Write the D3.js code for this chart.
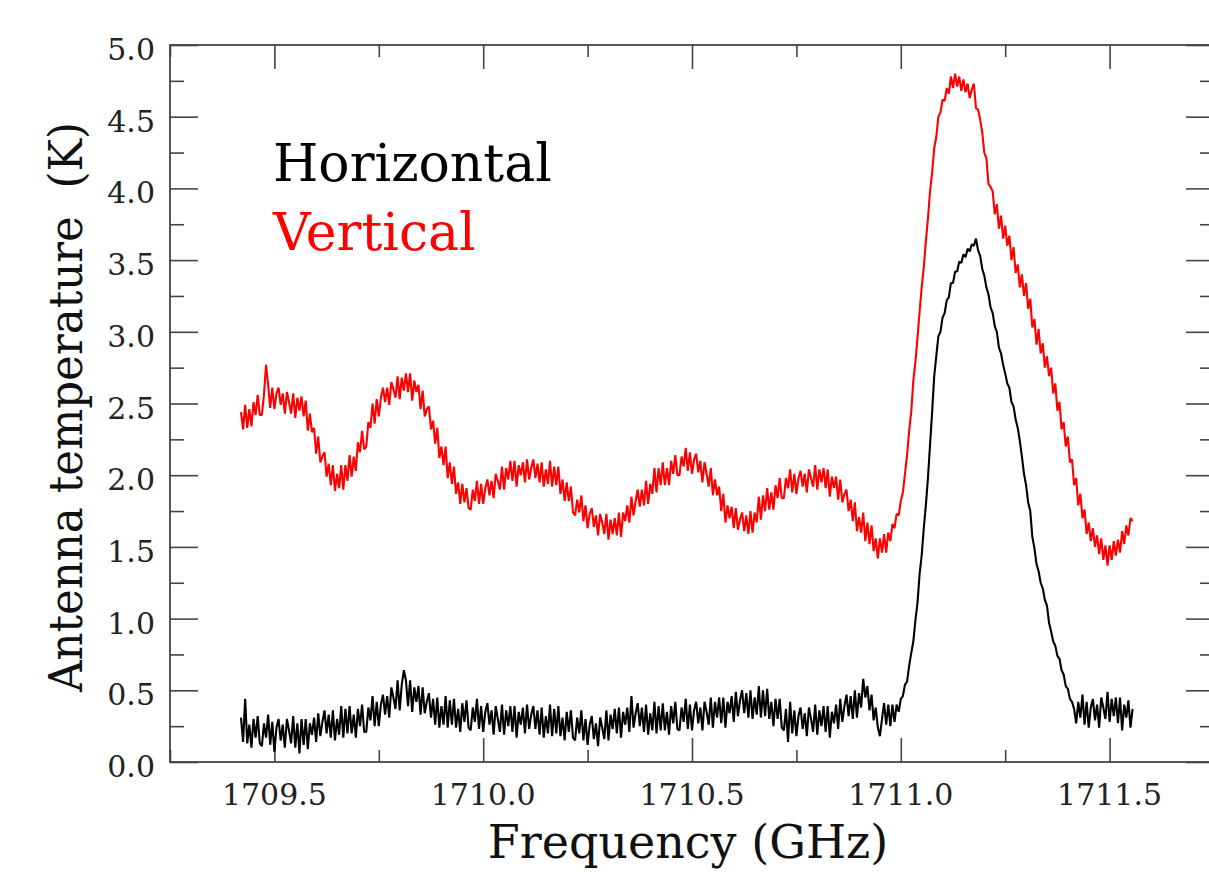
<!DOCTYPE html>
<html>
<head>
<meta charset="utf-8">
<script src="https://cdn.jsdelivr.net/npm/d3@7"></script>
<style>
  body { margin: 0; background: #fff; }
  text { font-family: "DejaVu Serif", serif; }
</style>
</head>
<body>
<svg id="chart" width="1209" height="873"></svg>
<script>
// spectrometer channels: first channel and channel width (GHz)
const freqStart = 1709.42;
const freqStep = 0.005;

// antenna temperature (K), vertical polarisation
const vertical = [
  2.44,2.32,2.49,2.33,2.46,2.34,2.51,2.42,2.56,2.42,
  2.42,2.56,2.77,2.63,2.47,2.61,2.46,2.57,2.61,2.49,
  2.57,2.43,2.58,2.51,2.43,2.57,2.40,2.54,2.45,2.55,
  2.41,2.52,2.31,2.43,2.30,2.33,2.15,2.27,2.09,2.13,
  2.16,1.99,2.08,1.93,2.07,1.89,2.01,1.91,2.07,1.90,
  2.07,1.96,2.14,1.99,2.13,2.03,2.23,2.16,2.31,2.18,
  2.20,2.37,2.33,2.50,2.36,2.53,2.41,2.54,2.61,2.51,
  2.61,2.49,2.65,2.60,2.54,2.69,2.53,2.68,2.59,2.71,
  2.58,2.71,2.52,2.66,2.58,2.63,2.46,2.59,2.41,2.46,
  2.48,2.32,2.38,2.22,2.33,2.12,2.20,2.07,2.20,1.98,
  2.09,1.94,2.06,1.87,1.95,1.80,1.94,1.81,1.91,1.77,
  1.76,1.90,1.82,1.96,1.80,1.94,1.80,1.91,1.97,1.86,
  1.96,1.84,2.01,1.96,1.90,2.06,1.90,2.05,1.97,2.10,
  1.96,2.10,1.92,2.07,2.00,2.09,1.95,2.11,1.97,2.05,
  2.11,1.98,2.08,1.95,2.09,1.92,2.04,1.94,2.10,1.92,
  2.06,1.93,2.06,1.87,1.97,1.82,1.95,1.82,1.92,1.74,
  1.72,1.83,1.74,1.86,1.68,1.79,1.63,1.73,1.77,1.64,
  1.72,1.58,1.73,1.67,1.59,1.73,1.55,1.69,1.59,1.70,
  1.58,1.74,1.57,1.74,1.68,1.79,1.67,1.85,1.72,1.82,
  1.90,1.78,1.90,1.79,1.96,1.80,1.94,1.87,2.05,1.88,
  2.05,1.93,2.09,1.93,2.05,1.93,2.10,2.01,2.14,2.00,
  2.00,2.13,2.06,2.19,2.03,2.16,2.01,2.11,2.15,2.02,
  2.10,1.95,2.09,2.01,1.92,2.05,1.86,1.97,1.86,1.92,
  1.75,1.87,1.67,1.79,1.70,1.78,1.63,1.77,1.62,1.69,
  1.74,1.61,1.72,1.59,1.75,1.60,1.74,1.67,1.85,1.69,
  1.86,1.75,1.91,1.76,1.88,1.76,1.93,1.84,1.98,1.84,
  1.84,1.98,1.91,2.04,1.88,2.01,1.87,1.98,2.03,1.92,
  2.01,1.88,2.04,1.98,1.92,2.07,1.90,2.04,1.95,2.05,
  1.91,2.04,1.85,1.99,1.91,1.99,1.83,1.97,1.81,1.87,
  1.90,1.75,1.83,1.68,1.81,1.61,1.71,1.60,1.74,1.54,
  1.67,1.52,1.65,1.47,1.56,1.42,1.56,1.46,1.59,1.46,
  1.60,1.54,1.66,1.63,1.73,1.72,1.82,1.88,2.01,2.14,
  2.31,2.44,2.66,2.79,2.96,3.14,3.31,3.45,3.63,3.79,
  3.98,4.11,4.28,4.36,4.50,4.53,4.62,4.61,4.70,4.66,
  4.78,4.70,4.80,4.71,4.78,4.68,4.76,4.67,4.73,4.63,
  4.69,4.73,4.56,4.55,4.48,4.39,4.25,4.21,4.03,4.01,
  3.98,3.82,3.89,3.72,3.81,3.65,3.74,3.60,3.67,3.50,
  3.59,3.41,3.47,3.31,3.40,3.25,3.34,3.16,3.23,3.03,
  3.09,2.91,3.02,2.85,2.92,2.75,2.83,2.69,2.75,2.57,
  2.64,2.45,2.51,2.32,2.37,2.20,2.27,2.09,2.11,1.93,
  1.98,1.79,1.87,1.70,1.76,1.59,1.67,1.54,1.63,1.50,
  1.58,1.45,1.56,1.41,1.51,1.37,1.51,1.41,1.54,1.44,
  1.55,1.46,1.61,1.52,1.65,1.58,1.70,1.68
];

// antenna temperature (K), horizontal polarisation
const horizontal = [
  0.31,0.14,0.44,0.13,0.26,0.10,0.30,0.17,0.32,0.13,
  0.11,0.27,0.17,0.33,0.12,0.28,0.07,0.24,0.30,0.15,
  0.26,0.10,0.30,0.22,0.13,0.32,0.10,0.27,0.06,0.30,
  0.12,0.30,0.09,0.27,0.19,0.31,0.14,0.34,0.18,0.28,
  0.36,0.20,0.33,0.17,0.36,0.15,0.30,0.19,0.39,0.17,
  0.37,0.20,0.39,0.20,0.33,0.17,0.37,0.25,0.40,0.21,
  0.21,0.38,0.29,0.46,0.25,0.42,0.25,0.40,0.47,0.33,
  0.46,0.31,0.52,0.45,0.37,0.57,0.36,0.54,0.64,0.57,
  0.39,0.57,0.35,0.52,0.42,0.53,0.33,0.52,0.34,0.42,
  0.48,0.31,0.44,0.26,0.45,0.24,0.39,0.26,0.46,0.24,
  0.43,0.26,0.44,0.24,0.37,0.21,0.41,0.28,0.43,0.24,
  0.22,0.38,0.28,0.44,0.23,0.39,0.21,0.35,0.41,0.26,
  0.36,0.19,0.39,0.30,0.21,0.40,0.19,0.36,0.25,0.39,
  0.21,0.39,0.17,0.35,0.26,0.38,0.20,0.40,0.23,0.33,
  0.39,0.23,0.36,0.19,0.38,0.17,0.32,0.20,0.40,0.18,
  0.37,0.20,0.39,0.18,0.31,0.15,0.35,0.21,0.36,0.17,
  0.15,0.31,0.20,0.36,0.15,0.30,0.12,0.26,0.32,0.16,
  0.27,0.11,0.31,0.24,0.16,0.36,0.15,0.33,0.23,0.37,
  0.20,0.38,0.17,0.35,0.26,0.38,0.21,0.46,0.24,0.34,
  0.41,0.25,0.38,0.21,0.40,0.19,0.34,0.22,0.42,0.20,
  0.39,0.22,0.41,0.22,0.35,0.19,0.39,0.27,0.42,0.23,
  0.22,0.38,0.28,0.44,0.23,0.40,0.22,0.36,0.42,0.27,
  0.38,0.22,0.42,0.35,0.26,0.45,0.24,0.42,0.31,0.45,
  0.27,0.45,0.24,0.42,0.34,0.46,0.28,0.49,0.32,0.43,
  0.50,0.34,0.48,0.31,0.50,0.30,0.45,0.33,0.53,0.31,
  0.50,0.32,0.51,0.30,0.42,0.25,0.44,0.30,0.44,0.24,
  0.22,0.37,0.14,0.42,0.20,0.36,0.18,0.32,0.38,0.23,
  0.34,0.18,0.38,0.30,0.21,0.40,0.19,0.36,0.25,0.39,
  0.21,0.39,0.17,0.35,0.27,0.40,0.23,0.44,0.28,0.39,
  0.47,0.32,0.46,0.30,0.50,0.31,0.48,0.38,0.58,0.45,
  0.53,0.36,0.47,0.29,0.38,0.24,0.18,0.30,0.41,0.26,
  0.40,0.25,0.40,0.28,0.40,0.35,0.44,0.46,0.54,0.56,
  0.67,0.76,0.84,0.99,1.11,1.31,1.44,1.63,1.79,1.98,
  2.21,2.44,2.69,2.83,2.97,3.00,3.10,3.13,3.22,3.24,
  3.34,3.34,3.42,3.42,3.49,3.48,3.54,3.52,3.58,3.56,
  3.61,3.60,3.65,3.57,3.53,3.44,3.39,3.31,3.26,3.17,
  3.13,3.04,3.00,2.89,2.85,2.77,2.71,2.64,2.61,2.51,
  2.48,2.39,2.33,2.24,2.13,2.01,1.93,1.81,1.75,1.57,
  1.49,1.38,1.33,1.25,1.21,1.13,1.09,0.97,0.91,0.84,
  0.81,0.74,0.72,0.64,0.61,0.53,0.51,0.44,0.42,0.37,
  0.27,0.42,0.31,0.47,0.26,0.42,0.24,0.38,0.44,0.29,
  0.40,0.24,0.45,0.38,0.30,0.49,0.28,0.44,0.32,0.45,
  0.27,0.45,0.22,0.40,0.31,0.43,0.24,0.37
];

const xMajor = [1709.5, 1710.0, 1710.5, 1711.0, 1711.5];
const xMinor = [1709.25, 1709.75, 1710.25, 1710.75, 1711.25, 1711.75];
const yMajor = [0, 0.5, 1, 1.5, 2, 2.5, 3, 3.5, 4, 4.5, 5];
const yMinor = [0.25, 0.75, 1.25, 1.75, 2.25, 2.75, 3.25, 3.75, 4.25, 4.75];

const svg = d3.select('#chart');
const plotLeft = 170, plotRight = 1214, plotTop = 45, plotBottom = 762;

const x = d3.scaleLinear().domain([1709.25, 1711.75]).range([plotLeft, plotRight]);
const y = d3.scaleLinear().domain([0, 5]).range([plotBottom, plotTop]);

const axisColor = '#444';

// ticks, all pointing into the plot
function ticks(axis, vals, size, tx, ty) {
  const g = svg.append('g')
    .attr('transform', `translate(${tx},${ty})`)
    .call(axis.tickValues(vals).tickSize(size).tickSizeOuter(0).tickFormat(''));
  g.select('.domain').remove();
  g.selectAll('line').attr('stroke', axisColor).attr('stroke-width', 1.6);
  return g;
}
ticks(d3.axisBottom(x), xMajor, -24, 0, plotBottom);
ticks(d3.axisBottom(x), xMinor, -12, 0, plotBottom);
ticks(d3.axisTop(x), xMajor, -24, 0, plotTop);
ticks(d3.axisTop(x), xMinor, -12, 0, plotTop);
ticks(d3.axisLeft(y), yMajor, -28, plotLeft, 0);
ticks(d3.axisLeft(y), yMinor, -14, plotLeft, 0);
ticks(d3.axisRight(y), yMajor, -28, plotRight, 0);
ticks(d3.axisRight(y), yMinor, -14, plotRight, 0);

svg.append('rect')
  .attr('x', plotLeft).attr('y', plotTop)
  .attr('width', plotRight - plotLeft).attr('height', plotBottom - plotTop)
  .attr('fill', 'none').attr('stroke', axisColor).attr('stroke-width', 1.8);

// tick labels
svg.append('g').selectAll('text').data(xMajor).join('text')
  .attr('x', d => x(d)).attr('y', 805)
  .attr('text-anchor', 'middle')
  .attr('font-size', 30).attr('fill', '#222')
  .text(d => d.toFixed(1));

svg.append('g').selectAll('text').data(yMajor).join('text')
  .attr('x', 155).attr('y', d => y(d) + 15)
  .attr('text-anchor', 'end')
  .attr('font-size', 30).attr('fill', '#222')
  .text(d => d.toFixed(1));

// axis titles
svg.append('text')
  .attr('x', 688).attr('y', 858)
  .attr('text-anchor', 'middle')
  .attr('font-size', 46).attr('fill', '#111')
  .text('Frequency (GHz)');

svg.append('text')
  .attr('transform', 'translate(82,407) rotate(-90)')
  .attr('text-anchor', 'middle')
  .attr('font-size', 47).attr('fill', '#111')
  .attr('textLength', 570).attr('lengthAdjust', 'spacingAndGlyphs')
  .style('white-space', 'pre')
  .text('Antenna temperature  (K)');

// spectra
const line = d3.line()
  .x((d, i) => x(freqStart + i * freqStep))
  .y(d => y(d));

svg.append('path').datum(vertical)
  .attr('d', line).attr('fill', 'none')
  .attr('stroke', '#ff0000').attr('stroke-width', 2.1)
  .attr('stroke-linejoin', 'bevel');

svg.append('path').datum(horizontal)
  .attr('d', line).attr('fill', 'none')
  .attr('stroke', '#000').attr('stroke-width', 2.1)
  .attr('stroke-linejoin', 'bevel');

// legend
svg.append('text').attr('x', 273).attr('y', 181)
  .attr('font-size', 52).attr('fill', '#000').text('Horizontal');
svg.append('text').attr('x', 273).attr('y', 250)
  .attr('font-size', 52).attr('fill', '#ff0000').text('Vertical');
</script>
</body>
</html>
